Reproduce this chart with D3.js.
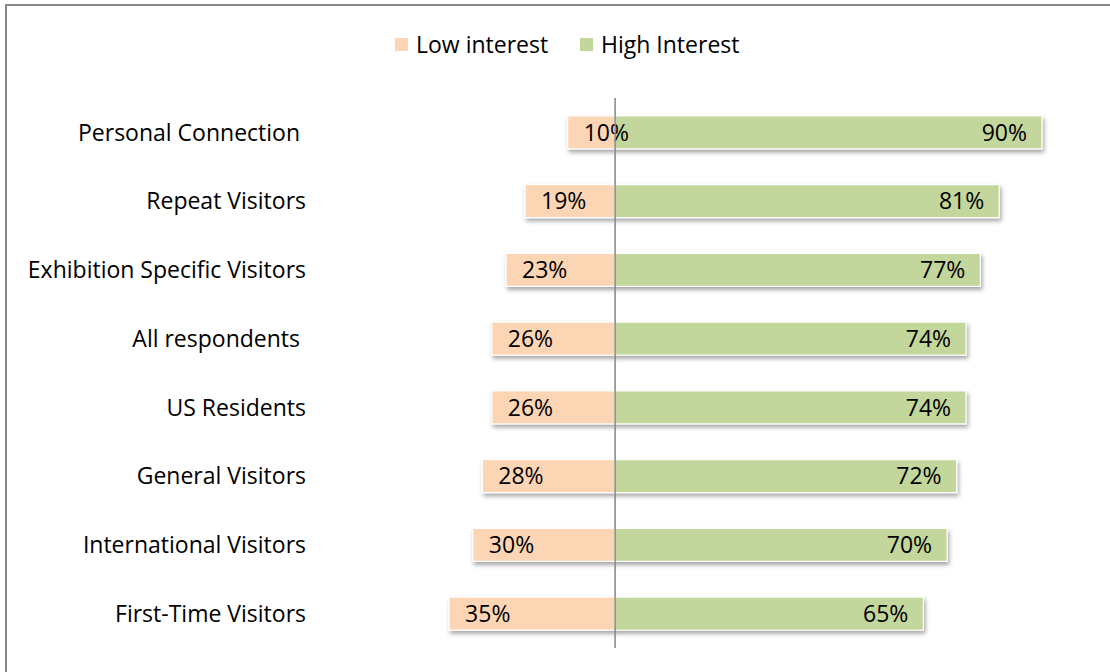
<!DOCTYPE html>
<html>
<head>
<meta charset="utf-8">
<script src="https://cdn.jsdelivr.net/npm/d3@7/dist/d3.min.js"></script>
<style>
  html, body { margin: 0; padding: 0; background: #fff; }
  svg { display: block; }
  text { font-family: "Open Sans", Lato, sans-serif; fill: #000; white-space: pre; }
</style>
</head>
<body>
<svg id="chart" width="1110" height="672"></svg>
<script>
// Interest level by visitor segment (percent of respondents)
const categories = [
  "Personal Connection ",
  "Repeat Visitors",
  "Exhibition Specific Visitors",
  "All respondents ",
  "US Residents",
  "General Visitors",
  "International Visitors",
  "First-Time Visitors"
];
const lowInterest  = [10, 19, 23, 26, 26, 28, 30, 35];
const highInterest = [90, 81, 77, 74, 74, 72, 70, 65];
const seriesNames  = ["Low interest", "High Interest"];
const seriesColors = ["#FCD5B5", "#C3D69B"];

const svg = d3.select("#chart");
const W = 1110, H = 672;
const fontFamily = "'Open Sans', Lato, sans-serif";
const fs = 23;

// Outer chart frame
svg.append("rect")
  .attr("x", 6).attr("y", 5)
  .attr("width", W + 20).attr("height", H + 20)
  .attr("fill", "#fff")
  .attr("stroke", "#878787")
  .attr("stroke-width", 2);

// Soft drop shadow under bars
const defs = svg.append("defs");
const f = defs.append("filter").attr("id", "shadow")
  .attr("x", "-5%").attr("y", "-30%").attr("width", "110%").attr("height", "170%");
f.append("feDropShadow")
  .attr("dx", 1.5).attr("dy", 3).attr("stdDeviation", 2)
  .attr("flood-color", "#000").attr("flood-opacity", 0.35);

const x = d3.scaleLinear().domain([-40, 100]).range([425.4, 1089.4]);
const y = d3.scaleBand().domain(categories).range([98, 648])
  .paddingInner(0.52).paddingOuter(0.26);

const rows = categories.map((c, i) => ({ cat: c, low: lowInterest[i], high: highInterest[i] }));

const bars = svg.append("g");
rows.forEach(d => {
  const g = bars.append("g").attr("filter", "url(#shadow)");
  g.append("rect")
    .attr("x", x(-d.low)).attr("y", y(d.cat))
    .attr("width", x(0) - x(-d.low)).attr("height", y.bandwidth())
    .attr("fill", seriesColors[0])
    .attr("stroke", "#fff").attr("stroke-width", 1.2);
  g.append("rect")
    .attr("x", x(0)).attr("y", y(d.cat))
    .attr("width", x(d.high) - x(0)).attr("height", y.bandwidth())
    .attr("fill", seriesColors[1])
    .attr("stroke", "#fff").attr("stroke-width", 1.2);
});

// Value labels inside bar ends
rows.forEach(d => {
  const cy = y(d.cat) + y.bandwidth() / 2;
  svg.append("text")
    .attr("x", x(-d.low) + 16).attr("y", cy).attr("dy", "0.36em")
    .attr("font-size", fs)
    .text(d.low + "%");
  svg.append("text")
    .attr("x", x(d.high) - 15).attr("y", cy).attr("dy", "0.36em")
    .attr("text-anchor", "end")
    .attr("font-size", fs)
    .text(d.high + "%");
});

// Zero axis line
svg.append("line")
  .attr("x1", x(0)).attr("x2", x(0))
  .attr("y1", 98).attr("y2", 648)
  .attr("stroke", "#868686").attr("stroke-width", 1.5);

// Category axis labels
const yAxis = d3.axisLeft(y).tickSize(0).tickPadding(0);
const ay = svg.append("g").attr("transform", "translate(306,0)").call(yAxis);
ay.select(".domain").remove();
ay.selectAll("text")
  .attr("font-size", fs)
  .attr("font-family", fontFamily)
  .attr("fill", "#000")
  .attr("dy", "0.36em");

// Legend
const legendX = [395, 580];
seriesNames.forEach((n, i) => {
  svg.append("rect")
    .attr("x", legendX[i]).attr("y", 38)
    .attr("width", 13).attr("height", 13)
    .attr("fill", seriesColors[i]);
  svg.append("text")
    .attr("x", legendX[i] + 21).attr("y", 45).attr("dy", "0.36em")
    .attr("font-size", fs)
    .text(n);
});
</script>
</body>
</html>
